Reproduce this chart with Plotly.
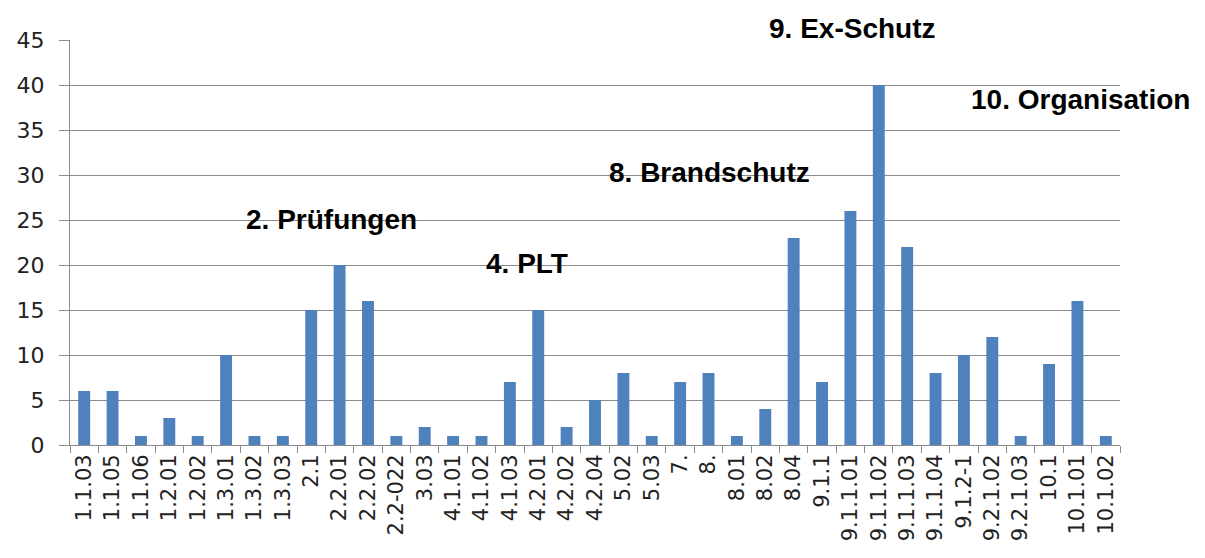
import plotly.graph_objects as go

categories = ["1.1.03", "1.1.05", "1.1.06", "1.2.01", "1.2.02", "1.3.01", "1.3.02", "1.3.03",
              "2.1", "2.2.01", "2.2.02", "2.2-022", "3.03", "4.1.01", "4.1.02", "4.1.03",
              "4.2.01", "4.2.02", "4.2.04", "5.02", "5.03", "7.", "8.", "8.01", "8.02", "8.04",
              "9.1.1", "9.1.1.01", "9.1.1.02", "9.1.1.03", "9.1.1.04", "9.1.2-1", "9.2.1.02",
              "9.2.1.03", "10.1", "10.1.01", "10.1.02"]
values = [6, 6, 1, 3, 1, 10, 1, 1, 15, 20, 16, 1, 2, 1, 1, 7, 15, 2, 5, 8, 1, 7, 8, 1, 4, 23,
          7, 26, 40, 22, 8, 10, 12, 1, 9, 16, 1]

group_labels = ["2. Prüfungen", "4. PLT", "8. Brandschutz", "9. Ex-Schutz", "10. Organisation"]
group_x = [0.2495, 0.435, 0.6086, 0.7448, 0.962]
group_y = [0.5556, 0.447, 0.674, 1.0296, 0.852]

fig = go.Figure()
fig.add_trace(go.Bar(x=categories, y=values, marker=dict(color="#4F81BD", line=dict(width=0)),
                     showlegend=False))

for t, x, y in zip(group_labels, group_x, group_y):
    fig.add_annotation(text="<b>%s</b>" % t, x=x, y=y, xref="paper", yref="paper",
                       showarrow=False, xanchor="center", yanchor="middle",
                       font=dict(family="Liberation Sans, Arial, sans-serif", size=28, color="#000000"))

# page body has an 8px default margin; compensate so the plot sits where the reference has it
fig.update_layout(
    width=1205, height=558,
    margin=dict(l=62, r=93, t=32, b=121, autoexpand=False),
    paper_bgcolor="white", plot_bgcolor="white",
    bargap=0.58,
    font=dict(family="DejaVu Sans, sans-serif", color="#222222"),
)
fig.update_xaxes(
    type="category", tickangle=-90, tickfont=dict(family="DejaVu Sans", size=21, color="#222222"),
    showline=True, linecolor="#8c8c8c", linewidth=1,
    ticks="outside", ticklen=7, tickcolor="#8c8c8c", tickson="boundaries",
    showgrid=False, automargin=False,
)
fig.update_yaxes(
    range=[0, 45], dtick=5, tickfont=dict(family="DejaVu Sans", size=22, color="#222222"),
    showline=True, linecolor="#8c8c8c", linewidth=1,
    ticks="outside", ticklen=10, tickcolor="#8c8c8c",
    showgrid=True, gridcolor="#8c8c8c", gridwidth=1, zeroline=False,
    ticklabelstandoff=10, automargin=False,
)

fig.write_html("out.html")
